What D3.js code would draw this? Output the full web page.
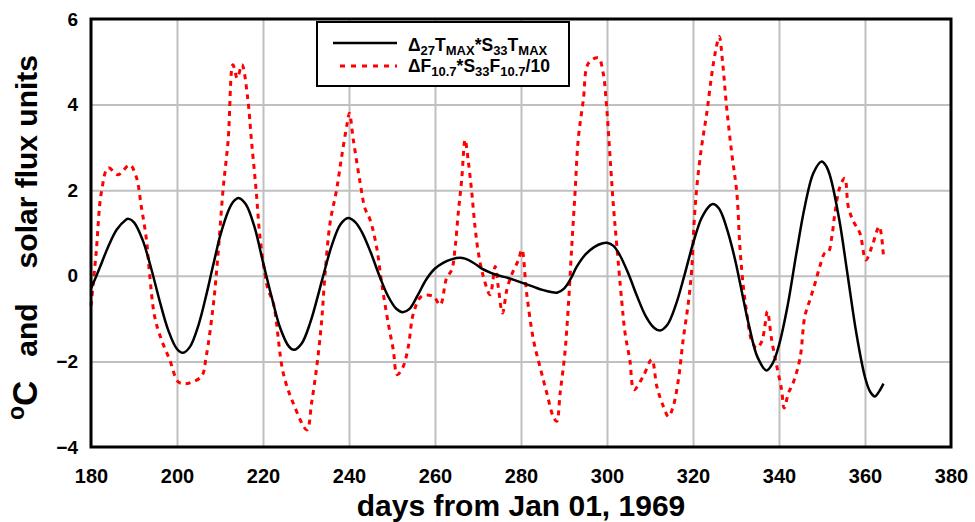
<!DOCTYPE html>
<html>
<head>
<meta charset="utf-8">
<script src="https://cdn.jsdelivr.net/npm/d3@7"></script>
<style>
  body { margin: 0; background: #fff; }
  svg { display: block; font-family: "Liberation Sans", Arial, sans-serif; font-weight: bold; }
</style>
</head>
<body>
<div id="chart"></div>
<script>
// days / values
let tmaxDays = [180, 182, 184, 186, 188, 188.7, 190, 192, 194, 196, 198, 200, 201.4, 203, 205, 207, 208, 209, 210, 212, 213, 214.3, 216, 218, 220, 222, 224, 226, 227.2, 229, 231, 233, 234, 236, 238, 239.8, 241.5, 243, 245, 247, 249, 251, 252.5, 254, 256, 258, 260, 262, 264, 265.8, 267, 269, 271, 273, 275, 277, 279, 281, 283, 285, 287, 288.5, 290, 291.5, 293, 295, 297, 299, 300, 301.5, 303, 305, 307, 309, 311, 312.3, 314, 316, 318, 320, 322, 324, 324.7, 326, 327, 328, 329, 330, 331, 333, 335, 337.1, 338.5, 340, 342, 344, 346, 348, 349.9, 351, 352, 354, 356, 358, 360, 361.2, 362.3, 363.3, 364.3];
let tmaxValues = [-0.3, 0.18, 0.68, 1.08, 1.3, 1.33, 1.25, 0.84, 0.17, -0.6, -1.28, -1.71, -1.8, -1.66, -1.15, -0.37, 0.07, 0.5, 0.92, 1.53, 1.72, 1.82, 1.67, 1.15, 0.32, -0.49, -1.22, -1.65, -1.73, -1.58, -1.09, -0.38, 0.0, 0.71, 1.2, 1.35, 1.25, 1.02, 0.56, 0.02, -0.46, -0.77, -0.85, -0.78, -0.45, -0.08, 0.17, 0.31, 0.39, 0.42, 0.4, 0.3, 0.16, 0.07, 0.0, -0.05, -0.12, -0.19, -0.26, -0.33, -0.38, -0.39, -0.3, -0.08, 0.22, 0.5, 0.67, 0.76, 0.77, 0.7, 0.48, 0.04, -0.48, -0.94, -1.22, -1.28, -1.15, -0.68, 0.01, 0.75, 1.35, 1.65, 1.68, 1.58, 1.37, 1.06, 0.7, 0.28, -0.2, -1.15, -1.9, -2.21, -2.05, -1.62, -0.7, 0.5, 1.62, 2.4, 2.67, 2.56, 2.29, 1.32, -0.01, -1.35, -2.37, -2.71, -2.82, -2.7, -2.52];

let fluxDays = [180, 181.2, 182.4, 184, 186.3, 189, 190.5, 191.7, 192.9, 193.6, 194.8, 196.4, 198.3, 200.2, 201.5, 203, 205.7, 206.8, 208.4, 209.5, 210.7, 211.9, 213, 214, 215.1, 216.4, 217.3, 218.4, 219.2, 220.4, 221.2, 222.4, 224.7, 227, 230.2, 231.3, 232.5, 233.6, 234.4, 235.6, 237.1, 238.3, 239.6, 240.1, 241, 242.6, 243.7, 244.9, 246.4, 247.6, 249.1, 250.3, 251.2, 252.6, 253.8, 255, 256.9, 259.6, 261.2, 262.7, 263.9, 264.7, 265.4, 266.2, 267, 267.7, 268.5, 269.3, 270.1, 271.2, 272.8, 274, 274.7, 275.7, 276.7, 277.8, 279.4, 280.2, 281.3, 282.9, 284.4, 286, 287.5, 288.3, 289.1, 290.2, 291, 291.8, 292.6, 293.3, 294.5, 295.7, 298, 299.1, 299.9, 300.7, 301.5, 302.3, 303.4, 304.2, 305.3, 306.3, 308.4, 310.4, 311.6, 313.1, 314.3, 315.4, 316.6, 317.7, 318.9, 319.7, 320.2, 320.9, 322, 323.2, 324.3, 325.3, 326.1, 326.9, 327.8, 329, 330.2, 330.9, 331.7, 332.5, 333.6, 334.8, 336, 336.7, 337.3, 338.3, 339.5, 340.6, 341.2, 342.2, 343.3, 344.9, 346, 347.2, 348.4, 349.5, 350.7, 351.5, 352.3, 353, 354.2, 355.3, 356.1, 357.3, 358.8, 360.2, 361.6, 363.3, 364.3];
let fluxValues = [-0.7, 0.54, 1.94, 2.52, 2.36, 2.59, 2.32, 1.62, 0.84, 0.07, -0.95, -1.5, -1.96, -2.47, -2.52, -2.5, -2.35, -1.88, -0.72, 0.45, 2.0, 3.18, 4.93, 4.62, 4.93, 4.19, 3.18, 2.0, 1.0, 0.07, -0.33, -0.64, -2.27, -2.97, -3.6, -2.97, -2.12, -1.1, 0, 1.24, 2.0, 2.79, 3.57, 3.8, 3.18, 2.17, 1.58, 1.31, 0.68, -0.17, -1.1, -1.73, -2.31, -2.12, -1.65, -0.87, -0.48, -0.48, -0.68, -0.05, 0.14, 0.68, 1.46, 2.24, 3.18, 2.71, 2.0, 1.15, 0.53, 0, -0.44, 0.22, -0.25, -0.87, -0.33, 0.02, 0.37, 0.61, -0.4, -1.5, -2.12, -2.74, -3.29, -3.4, -2.74, -1.81, -0.72, 0.68, 2.0, 3.18, 4.11, 4.97, 5.09, 4.74, 3.96, 2.79, 1.62, 0.68, -0.56, -1.34, -1.96, -2.66, -2.35, -1.96, -2.59, -3.05, -3.29, -3.05, -2.43, -1.5, -0.64, 0.14, 1.15, 2.09, 3.02, 3.8, 4.66, 5.28, 5.59, 4.97, 3.96, 2.87, 1.93, 0.68, -0.25, -0.87, -1.5, -1.69, -1.53, -1.18, -0.83, -1.5, -2.12, -2.66, -3.09, -2.74, -2.5, -1.92, -0.95, -0.56, -0.17, 0.22, 0.54, 0.56, 0.92, 1.46, 2.09, 2.28, 1.62, 1.27, 1.0, 0.37, 0.68, 1.15, 0.45];

let xTicks = [180, 200, 220, 240, 260, 280, 300, 320, 340, 360, 380];
let yTicks = [-4, -2, 0, 2, 4, 6];

const width = 975;
const height = 522;
const margin = { top: 19, right: 24, bottom: 75, left: 91 };

const svg = d3
  .select("#chart")
  .append("svg")
  .attr("width", width)
  .attr("height", height);

const x = d3.scaleLinear().domain([180, 380]).range([margin.left, width - margin.right]);
const y = d3.scaleLinear().domain([-4, 6]).range([height - margin.bottom, margin.top]);

//BEGIN: GRID
svg
  .append("g")
  .attr("transform", `translate(0,${y(-4)})`)
  .call(d3.axisBottom(x).tickValues(xTicks.slice(1, -1)).tickSize(-(y(-4) - y(6))).tickFormat(""))
  .call((g) => g.select(".domain").remove())
  .call((g) => g.selectAll("line").attr("stroke", "#c0c0c0").attr("stroke-width", 2));

svg
  .append("g")
  .attr("transform", `translate(${x(180)},0)`)
  .call(d3.axisLeft(y).tickValues(yTicks.slice(1, -1)).tickSize(-(x(380) - x(180))).tickFormat(""))
  .call((g) => g.select(".domain").remove())
  .call((g) => g.selectAll("line").attr("stroke", "#c0c0c0").attr("stroke-width", 2));
//END: GRID

//BEGIN: SERIES
const tmax = tmaxDays.map((d, i) => ({ day: d, value: tmaxValues[i] }));
const flux = fluxDays.map((d, i) => ({ day: d, value: fluxValues[i] }));

const line = d3
  .line()
  .x((d) => x(d.day))
  .y((d) => y(d.value))
  .curve(d3.curveCatmullRom.alpha(0.5));

svg
  .append("path")
  .datum(flux)
  .attr("d", line)
  .attr("fill", "none")
  .attr("stroke", "#ff0000")
  .attr("stroke-width", 3)
  .attr("stroke-dasharray", "5,5");

svg
  .append("path")
  .datum(tmax)
  .attr("d", line)
  .attr("fill", "none")
  .attr("stroke", "#000")
  .attr("stroke-width", 2.5);
//END: SERIES

// plot frame
svg
  .append("rect")
  .attr("x", x(180))
  .attr("y", y(6))
  .attr("width", x(380) - x(180))
  .attr("height", y(-4) - y(6))
  .attr("fill", "none")
  .attr("stroke", "#000")
  .attr("stroke-width", 3);

//BEGIN: AXES
svg
  .append("g")
  .attr("transform", `translate(0,${y(-4)})`)
  .call(d3.axisBottom(x).tickValues(xTicks).tickSize(0).tickPadding(22))
  .call((g) => g.select(".domain").remove())
  .call((g) => g.selectAll("text").attr("font-size", 20).attr("font-family", null).attr("fill", "#000"));

svg
  .append("g")
  .attr("transform", `translate(${x(180)},0)`)
  .call(d3.axisLeft(y).tickValues(yTicks).tickSize(0).tickPadding(13))
  .call((g) => g.select(".domain").remove())
  .call((g) => g.selectAll("text").attr("font-size", 19).attr("font-family", null).attr("fill", "#000"));

svg
  .append("text")
  .attr("x", (x(180) + x(380)) / 2)
  .attr("y", 516)
  .attr("text-anchor", "middle")
  .attr("font-size", 30)
  .text("days from Jan 01, 1969");

const yTitle = svg.append("g").attr("transform", "translate(37,0) rotate(-90)");
const degC = yTitle.append("text").attr("x", -420).attr("y", 0).attr("font-size", 35);
degC.append("tspan").attr("font-size", 23).attr("dy", -13).text("o");
degC.append("tspan").attr("dy", 13).text("C");
yTitle.append("text").attr("x", -330).attr("text-anchor", "middle").attr("font-size", 30).text("and");
yTitle.append("text").attr("x", -55).attr("text-anchor", "end").attr("font-size", 30).text("solar flux units");
//END: AXES

//BEGIN: LEGEND
const legend = svg.append("g");
legend
  .append("rect")
  .attr("x", 317)
  .attr("y", 22)
  .attr("width", 252)
  .attr("height", 64)
  .attr("fill", "#fff")
  .attr("stroke", "#000")
  .attr("stroke-width", 2);

legend.append("line").attr("x1", 333).attr("x2", 397).attr("y1", 43).attr("y2", 43)
  .attr("stroke", "#000").attr("stroke-width", 2.5);
legend.append("line").attr("x1", 340).attr("x2", 397).attr("y1", 66).attr("y2", 66)
  .attr("stroke", "#ff0000").attr("stroke-width", 3).attr("stroke-dasharray", "5,6");

const addLabel = (yPos, parts) => {
  let t = legend.append("text").attr("x", 408).attr("y", yPos).attr("font-size", 17.5);
  let shift = 0;
  parts.forEach(([s, sub]) => {
    let target = sub ? 4 : 0;
    t.append("tspan")
      .attr("font-size", sub ? 13 : 17.5)
      .attr("dy", target - shift)
      .text(s);
    shift = target;
  });
};
addLabel(51, [["\u0394", 0], ["27", 1], ["T", 0], ["MAX", 1], ["*S", 0], ["33", 1], ["T", 0], ["MAX", 1]]);
addLabel(72, [["\u0394F", 0], ["10.7", 1], ["*S", 0], ["33", 1], ["F", 0], ["10.7", 1], ["/10", 0]]);
//END: LEGEND
</script>
</body>
</html>
